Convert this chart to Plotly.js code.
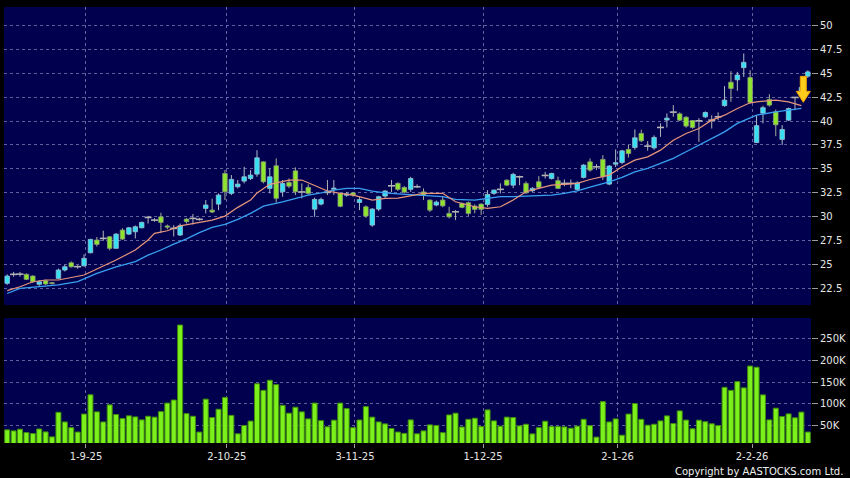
<!DOCTYPE html>
<html><head><meta charset="utf-8">
<script src="https://cdn.plot.ly/plotly-3.0.1.min.js"></script>
<style>html,body{margin:0;padding:0;background:#000;} #chart{width:850px;height:478px;}</style>
</head><body><div id="chart"></div>
<script>
// ---- data ----
const openP  = [23.06,24.0,24.02,24.0,23.82,22.96,23.33,23.13,23.58,24.45,25.2,24.8,24.9,26.25,27.58,27.75,27.92,26.71,28.62,28.2,28.44,28.86,29.94,29.66,30.0,29.05,28.8,28.1,29.77,29.84,29.74,30.88,30.7,31.33,34.53,32.45,33.14,33.73,34.0,34.46,35.74,32.97,35.33,32.62,33.6,34.8,32.6,33.07,30.8,31.33,32.55,32.88,32.45,32.25,32.5,31.5,31.05,29.14,30.81,32.17,33.24,33.49,33.07,32.87,33.14,32.6,31.75,31.23,31.75,30.36,30.53,31.4,31.47,31.12,31.33,31.3,32.45,32.87,33.83,33.31,34.18,33.49,32.72,33.66,34.32,34.0,33.77,33.49,33.49,32.87,34.12,35.74,35.22,35.99,33.42,35.5,35.68,37.04,37.24,38.7,37.38,37.2,39.33,40.1,40.93,40.75,40.4,40.05,40.02,40.44,40.09,40.44,41.6,44.05,44.3,45.57,44.54,37.75,40.82,42.25,40.96,38.08,40.09,42.46,42.9,44.68];
const highP  = [24.0,24.25,24.25,24.1,23.9,23.4,23.45,23.2,24.6,25.0,25.35,24.95,26.1,27.7,27.9,28.55,28.0,28.3,28.8,28.95,29.1,29.5,30.1,29.85,30.43,29.2,29.14,29.3,29.85,30.3,29.9,31.75,31.9,32.45,34.88,34.36,33.84,35.22,34.88,36.96,35.8,35.06,36.1,33.84,34.0,35.16,33.49,33.4,32.0,32.0,33.84,33.84,32.5,32.6,32.6,32.1,31.2,30.9,32.2,32.8,33.84,33.6,33.2,34.18,33.4,32.97,31.8,31.7,32.1,31.05,30.7,31.5,31.6,31.3,31.4,32.79,32.85,33.49,33.9,34.6,34.3,33.7,33.1,34.25,34.7,34.6,34.2,33.9,33.9,33.7,35.5,36.1,35.5,36.44,35.4,37.04,37.0,37.5,39.12,39.1,37.9,38.5,39.75,40.79,41.66,40.9,40.5,40.1,40.3,41.0,40.6,40.9,43.64,45.2,45.13,47.05,45.3,40.6,41.6,42.8,41.2,39.57,41.4,42.5,43.7,45.3];
const lowP   = [22.9,23.75,23.75,23.4,23.1,22.8,22.9,22.95,23.5,24.3,24.7,24.6,24.8,26.2,26.9,27.5,26.5,26.7,27.6,28.1,27.75,28.8,29.3,29.5,28.3,28.7,27.95,28.0,29.3,29.2,29.6,30.36,30.4,30.7,31.75,32.27,32.97,33.49,33.84,34.18,33.49,32.45,31.5,32.1,33.0,32.27,31.93,32.3,30.0,31.2,32.27,32.27,31.0,32.1,32.1,30.7,29.9,28.97,30.6,32.0,32.6,32.7,32.45,32.6,33.0,31.75,30.5,31.1,31.0,29.84,29.66,30.9,30.1,30.36,30.2,31.05,32.3,32.45,33.2,33.0,33.31,32.4,32.6,32.9,34.0,33.9,32.9,33.2,33.0,32.7,34.0,34.7,34.9,33.84,33.3,35.2,35.5,36.2,37.0,37.8,36.9,37.0,38.35,39.33,40.44,40.0,39.3,39.2,37.83,40.3,39.22,40.1,41.5,42.0,43.15,44.6,41.8,37.7,39.75,41.5,38.42,37.5,40.0,41.13,42.5,44.5];
const closeP = [23.82,24.0,24.02,23.48,23.23,23.23,22.99,23.03,24.45,24.79,24.79,24.8,25.67,27.65,27.13,27.75,26.71,28.2,27.68,28.86,28.97,29.42,29.94,29.66,29.42,28.92,28.8,29.07,29.49,29.84,29.74,31.23,30.5,32.27,32.62,33.91,33.42,34.18,34.36,36.16,33.66,34.18,31.93,33.49,33.2,32.62,32.6,32.45,31.82,31.82,32.55,33.0,31.1,32.4,32.27,31.8,30.08,30.81,32.1,32.69,33.24,32.87,32.58,34.0,33.14,32.27,30.7,31.54,31.15,30.0,30.53,30.99,30.36,30.78,30.78,32.34,32.79,32.87,33.31,34.43,34.18,32.51,32.97,33.07,34.32,34.53,32.97,33.49,33.49,33.55,35.4,34.88,35.22,34.18,35.3,35.65,36.89,36.6,38.25,37.93,37.38,38.29,39.33,40.3,40.93,40.09,39.47,39.33,40.02,40.89,40.09,40.44,42.18,43.4,44.8,46.12,41.94,39.52,41.39,41.66,39.6,39.12,41.31,42.46,43.5,45.13];
const volumeK = [41,38.6,42.5,34.8,32.5,43,36.3,25,81,59,46,36,77,121,82,59,98,76,67,73,70.5,63.7,72,70,82.6,102,109,280,78,72,36,111,69,88,115,74,32,51,61,146,131,154,144,97,79,92.6,82,66,102,62,48,63,102,89.5,46,63.5,94,70,59,54.6,44,36,33,63.7,32,38.6,52.3,51,34.5,75,79,47.5,65,67.5,48.5,86.5,61.4,49.3,70,69,50,53.8,31.8,46,60.7,48.5,48.5,47.7,44.7,49.5,65,50.7,24.5,105.4,59,66,28.8,77,101,65,51.6,53.8,61.4,72.8,55.5,84.2,63.3,43.5,63,59.5,54.8,50.7,138,131,151,136.7,186.5,183.8,120.7,63.7,90.4,71.3,77.4,68.5,81.5,36];
const ma10Idx = [0,2,4,6,8,10,12,14,17,20,22,23,25,27,30,32,34,36,38,39,41,43,44,46,47,49,50,52,54,56,57,59,61,65,68,70,73,75,77,79,81,83,85,87,89,91,94,96,98,100,102,104,106,108,110,112,114,116,117,120,122,124];
const ma10    = [22.3,22.71,23.23,23.41,23.41,23.69,23.93,24.55,25.49,26.54,27.58,28.28,28.55,29.05,29.45,29.66,30.08,30.99,31.75,32.5,33.39,33.7,33.84,33.84,33.55,32.97,32.7,32.45,32.27,31.93,31.75,31.93,31.96,32.45,32.45,31.57,31.05,30.88,31.05,31.75,32.62,32.97,33.31,33.39,33.5,33.9,34.36,35.22,35.92,36.26,36.96,38.0,38.7,39.22,40.09,40.61,41.31,41.9,42.0,42.18,42.0,41.6];
const ma20Idx = [0,2,5,8,11,12,14,17,20,22,24,26,28,30,32,34,36,38,40,43,45,47,49,51,53,55,57,59,61,65,68,70,73,75,77,79,81,83,85,87,89,91,94,96,98,100,102,104,106,108,110,112,114,116,117,120,122,124];
const ma20    = [22.0,22.54,22.71,22.89,23.23,23.5,24.1,24.79,25.32,26.01,26.54,27.16,27.7,28.35,28.9,29.21,29.74,30.36,31.12,31.57,31.93,32.27,32.51,32.79,32.97,32.97,32.69,32.5,32.4,32.27,32.1,31.82,31.75,31.93,32.1,32.1,32.17,32.17,32.27,32.45,32.7,33.1,33.66,34.12,34.7,35.06,35.57,36.1,36.79,37.48,38.18,38.87,39.75,40.37,40.61,40.96,41.13,41.31];
const tickIdx    = [12,34,54,74,95,116];
const tickLabels = ['1-9-25','2-10-25','3-11-25','1-12-25','2-1-26','2-2-26'];
const priceTicks = [22.5,25,27.5,30,32.5,35,37.5,40,42.5,45,47.5,50];
const volTicks   = [50,100,150,200,250];
const volLabels  = ['50K','100K','150K','200K','250K'];

// ---- build ----
const idx = closeP.map((_, i) => i);
const kind = idx.map(i => closeP[i] > openP[i] ? 'up' : (closeP[i] < openP[i] ? 'dn' : 'dj'));
const style = {
  up: {fill: '#36e0f4', edge: '#9cc4d0', wick: '#a9bfca'},
  dn: {fill: '#8ee62c', edge: '#8d9f78', wick: '#a7ad9c'},
  dj: {fill: '#b4b4b4', edge: '#b4b4b4', wick: '#b4b4b4'}
};
// wick segments (upper and lower parts, so they do not cross the bodies)
function wicks(k) {
  const x = [], y = [];
  idx.forEach(i => {
    if (kind[i] !== k) return;
    const top = Math.max(openP[i], closeP[i]), bot = Math.min(openP[i], closeP[i]);
    x.push(i, i, null, i, i, null);
    y.push(highP[i], top, null, bot, lowP[i], null);
  });
  return {type: 'scatter', mode: 'lines', x, y, xaxis: 'x', yaxis: 'y', hoverinfo: 'skip', showlegend: false,
          line: {color: style[k].wick, width: 1}, connectgaps: false};
}
const bodyIdx = idx.filter(i => kind[i] !== 'dj');
const bodies = {
  type: 'bar', xaxis: 'x', yaxis: 'y', hoverinfo: 'skip', showlegend: false, width: 0.7,
  x: bodyIdx,
  base: bodyIdx.map(i => Math.min(openP[i], closeP[i])),
  y: bodyIdx.map(i => Math.abs(closeP[i] - openP[i])),
  marker: {color: bodyIdx.map(i => style[kind[i]].fill), line: {color: bodyIdx.map(i => style[kind[i]].edge), width: 0.8}}
};
const djIdx = idx.filter(i => kind[i] === 'dj');
const dojis = {
  type: 'scatter', mode: 'markers', xaxis: 'x', yaxis: 'y', hoverinfo: 'skip', showlegend: false,
  x: djIdx, y: djIdx.map(i => closeP[i]),
  marker: {symbol: 'line-ew', size: 5, line: {color: style.dj.fill, width: 1.6}}
};

const gridX = tickIdx.map(i => i + 0.3);
const gridCol = 'rgba(130,130,185,0.75)';
const tickFont = {family: 'DejaVu Sans, Verdana, sans-serif', size: 10, color: '#e6e6e6'};

const traces = [
  bodies,
  {type: 'bar', x: idx, y: volumeK, xaxis: 'x2', yaxis: 'y2', hoverinfo: 'skip', showlegend: false, width: 0.78,
   marker: {color: '#7cf01a', line: {color: '#3f8c0c', width: 1}}},
  wicks('up'), wicks('dn'), wicks('dj'), dojis,
  {type: 'scatter', mode: 'lines', x: ma20Idx, y: ma20, line: {color: '#3aa0f2', width: 1.3}, hoverinfo: 'skip', showlegend: false, xaxis: 'x', yaxis: 'y'},
  {type: 'scatter', mode: 'lines', x: ma10Idx, y: ma10, line: {color: '#e8967a', width: 1.2}, hoverinfo: 'skip', showlegend: false, xaxis: 'x', yaxis: 'y'}
];

const xDom = [4/850, 811/850];
const layout = {
  width: 850, height: 478, margin: {l: 0, r: 0, t: 0, b: 0},
  paper_bgcolor: '#000000', plot_bgcolor: '#00004e',
  showlegend: false, barmode: 'overlay',
  xaxis: {domain: xDom, range: [-0.5, 125.5], anchor: 'y',
          tickvals: gridX, showticklabels: false, ticks: '', showgrid: true, gridcolor: gridCol, griddash: 'dot',
          zeroline: false, showline: false},
  xaxis2: {domain: xDom, range: [-0.5, 125.5], anchor: 'y2',
           tickvals: gridX, ticktext: tickLabels, ticks: 'outside', ticklen: 4, tickcolor: '#9a9a9a',
           tickfont: tickFont, showgrid: true, gridcolor: gridCol, griddash: 'dot', zeroline: false, showline: false},
  yaxis: {domain: [(478-305)/478, (478-7)/478], range: [20.8, 51.9], anchor: 'x', side: 'right',
          tickvals: priceTicks, ticktext: priceTicks.map(String), ticks: 'outside', ticklen: 6, tickcolor: '#9a9a9a',
          tickfont: tickFont, showgrid: true, gridcolor: gridCol, griddash: 'dot', zeroline: false, showline: false},
  yaxis2: {domain: [35/478, 160/478], range: [11, 296], anchor: 'x2', side: 'right',
           tickvals: volTicks, ticktext: volLabels, ticks: 'outside', ticklen: 6, tickcolor: '#9a9a9a',
           tickfont: tickFont, showgrid: true, gridcolor: gridCol, griddash: 'dot', zeroline: false, showline: false},
  shapes: [{type: 'path', xref: 'x', yref: 'y', xsizemode: 'pixel', ysizemode: 'pixel', xanchor: 124.3, yanchor: 41.95,
            path: 'M -3 26 L 3 26 L 3 11 L 7 11 L 0 0 L -7 11 L -3 11 Z',
            fillcolor: '#ffcc1c', line: {color: '#f0a000', width: 1}, layer: 'above'}],
  annotations: [{text: 'Copyright by AASTOCKS.com Ltd.', xref: 'paper', yref: 'paper', x: 845/850, y: 7/478,
                 xanchor: 'right', yanchor: 'middle', showarrow: false,
                 font: {family: 'DejaVu Sans, Verdana, sans-serif', size: 10, color: '#f0f0f0'}}]
};
Plotly.newPlot('chart', traces, layout, {staticPlot: true, displayModeBar: false});
</script></body></html>
